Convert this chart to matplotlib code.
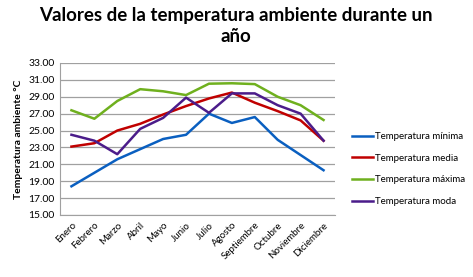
import numpy as np
import matplotlib.pyplot as plt

meses = ['Enero', 'Febrero', 'Marzo', 'Abril', 'Mayo', 'Junio', 'Julio',
         'Agosto', 'Septiembre', 'Octubre', 'Noviembre', 'Diciembre']

t_minima = [18.4, 20.0, 21.6, 22.8, 24.0, 24.5, 27.0, 25.9, 26.6, 23.9, 22.1, 20.3]
t_media = [23.1, 23.5, 25.0, 25.8, 26.9, 27.9, 28.8, 29.5, 28.3, 27.3, 26.2, 23.8]
t_maxima = [27.4, 26.4, 28.5, 29.9, 29.65, 29.2, 30.55, 30.6, 30.5, 29.0, 28.0, 26.25]
t_moda = [24.5, 23.8, 22.2, 25.2, 26.5, 28.9, 27.1, 29.4, 29.4, 28.0, 27.0, 23.8]

series = [('Temperatura mínima', t_minima, '#0A5FC0'),
          ('Temperatura media', t_media, '#C00000'),
          ('Temperatura máxima', t_maxima, '#6FB01E'),
          ('Temperatura moda', t_moda, '#4B1C8A')]

plt.rcParams['font.family'] = ['Lato', 'DejaVu Sans']

fig = plt.figure(figsize=(4.73, 2.77), dpi=100)
ax = fig.add_axes([60 / 473, 1 - 215 / 277, 275 / 473, 152 / 277])

x = np.arange(len(meses))
for nombre, vals, col in series:
    ax.plot(x, vals, color=col, lw=1.8, label=nombre)

ax.set_xlim(-0.5, len(meses) - 0.5)
ax.set_ylim(15, 33)
ax.set_yticks(np.arange(15, 34, 2))
ax.set_yticklabels(['%.2f' % v for v in np.arange(15, 34, 2)], fontsize=7.5)
ax.set_xticks(x)
ax.set_xticklabels(meses, rotation=45, ha='right', rotation_mode='anchor', fontsize=7)
ax.tick_params(length=0, pad=4)
ax.grid(axis='y', color='#A0A0A0', lw=0.9)
ax.set_axisbelow(True)
for s in ['top', 'right']:
    ax.spines[s].set_visible(False)
ax.spines['left'].set_color('#A0A0A0')
ax.spines['bottom'].set_color('#A0A0A0')
ax.set_ylabel('Temperatura ambiente °C', fontsize=7.5, fontweight='bold', labelpad=4)

fig.text(236 / 473, 1 - 26 / 277, 'Valores de la temperatura ambiente durante un\naño',
         ha='center', va='center', fontsize=13.5, fontweight='bold', linespacing=1.25)

ax.legend(loc='center left', bbox_to_anchor=(345 / 473, 1 - 169 / 277),
          bbox_transform=fig.transFigure, frameon=False, fontsize=7,
          handlelength=2.2, handletextpad=0.2, labelspacing=1.3, borderpad=0.2)

fig.savefig('out.png', dpi=100)
